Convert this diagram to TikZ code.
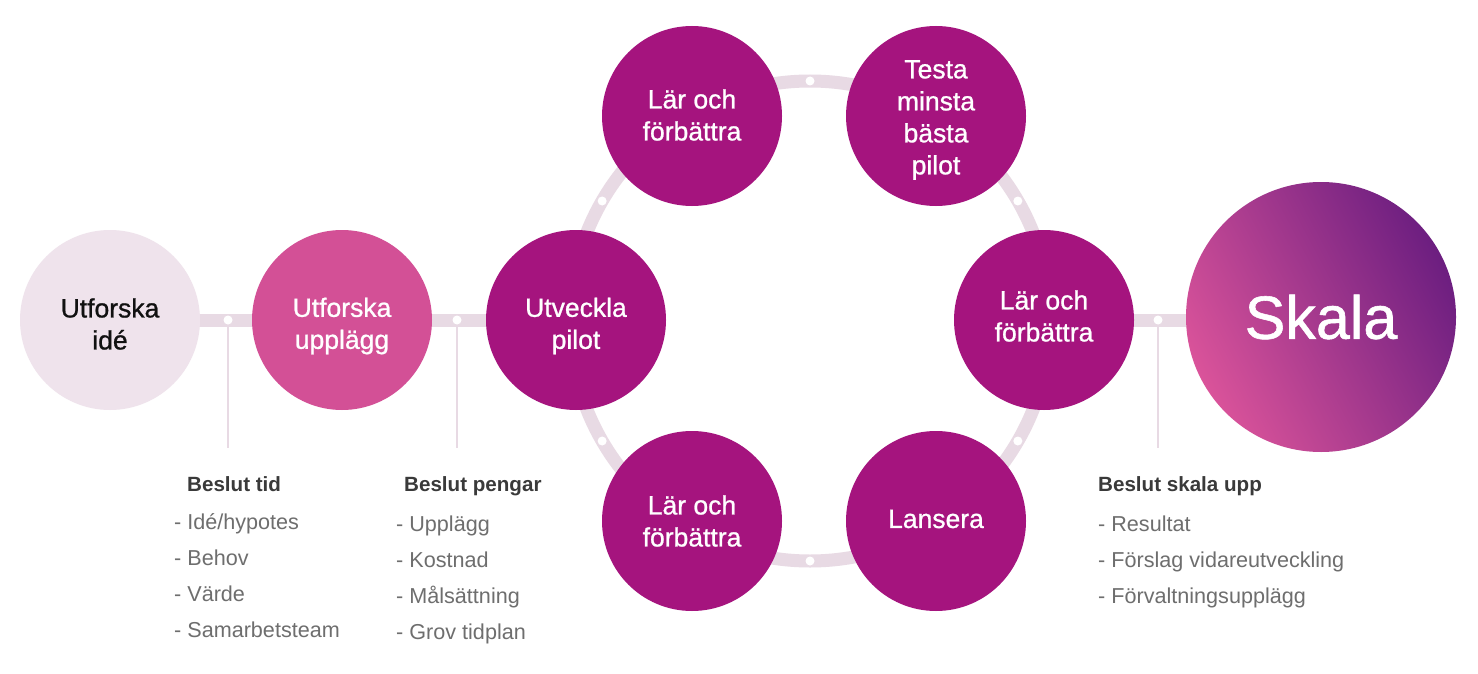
\documentclass[tikz,border=0pt]{standalone}
\usepackage{fontspec}
\setmainfont{Liberation Sans}
\newfontfamily\medfont{Liberation Sans}[FakeBold=0.9]
\usetikzlibrary{backgrounds}
\definecolor{ideC}{HTML}{EFE3EC}
\definecolor{uppC}{HTML}{D35096}
\definecolor{magC}{HTML}{A5147E}
\definecolor{lineC}{HTML}{E8DAE4}
\definecolor{skalaA}{HTML}{DA539A}
\definecolor{skalaB}{HTML}{6C1E80}
\definecolor{headC}{HTML}{3A3A3A}
\definecolor{itemC}{HTML}{6E6E6E}
\definecolor{darkT}{HTML}{111111}
\tikzset{
  stage/.style={circle, minimum size=180pt, inner sep=0pt, fill=magC},
  stagetext/.style={inner sep=0pt, align=center,
    font=\medfont\fontsize{26.5}{32}\selectfont, text=white},
  headtext/.style={anchor=base west, inner sep=0pt, text=headC,
    font=\bfseries\fontsize{20.6}{24}\selectfont},
  itemtext/.style={anchor=base west, inner sep=0pt, text=itemC,
    font=\fontsize{21.6}{24}\selectfont},
  track/.style={draw=lineC, line width=13pt},
  tick/.style={draw=lineC, line width=2pt},
  dot/.style={fill=white}
}
\begin{document}
\begin{tikzpicture}[x=1pt,y=-1pt]
\useasboundingbox (0,0) rectangle (1478,674);
% stages
\node[stage, fill=ideC] (ide) at (110,320) {};
\node[stage, fill=uppC] (upp) at (342,320) {};
\node[stage] (utv) at (576,320) {};
\node[stage] (lar1) at (692,116) {};
\node[stage] (testa) at (936,116) {};
\node[stage] (lar2) at (1044,320) {};
\node[stage] (lans) at (936,521) {};
\node[stage] (lar3) at (692,521) {};
\node[circle, minimum size=270pt, inner sep=0pt, left color=skalaA, right color=skalaB,
  shading angle=118, text=white, font=\medfont\fontsize{61}{70}\selectfont] (skala) at (1321,317) {Skala};
\node[stagetext, text=darkT, yshift=-4pt] (ideT) at (ide) {Utforska\\id\'e};
\node[stagetext, yshift=-6pt] (uppT) at (upp) {Utforska\\uppl\"agg};
\node[stagetext, yshift=-6pt] (utvT) at (utv) {Utveckla\\pilot};
\node[stagetext, yshift=1pt] (lar1T) at (lar1) {L\"ar och\\f\"orb\"attra};
\node[stagetext, yshift=-4pt] (testaT) at (testa) {Testa\\minsta\\b\"asta\\pilot};
\node[stagetext, yshift=4pt] (lar2T) at (lar2) {L\"ar och\\f\"orb\"attra};
\node[stagetext, yshift=2pt] (lansT) at (lans) {Lansera};
\node[stagetext] (lar3T) at (lar3) {L\"ar och\\f\"orb\"attra};
% tracks
\coordinate (ring) at (810,321);
\coordinate (d1) at (228,320);
\coordinate (d2) at (457,320);
\coordinate (d3) at (1158,320);
\coordinate (e1) at (228,448);
\coordinate (e2) at (457,448);
\coordinate (e3) at (1158,448);
\begin{scope}[on background layer]
  \fill[white] (0,0) rectangle (1478,674);
  \draw[track] (ide.center) -- (utv.center);
  \draw[track] (lar2.center) -- (skala.center |- lar2.center);
  \draw[track] (ring) circle[radius=240];
  \draw[tick] (d1) -- (e1);
  \draw[tick] (d2) -- (e2);
  \draw[tick] (d3) -- (e3);
  \foreach \p in {d1,d2,d3} \fill[dot] (\p) circle[radius=4.5];
  \foreach \a in {30,90,150,210,270,330} \fill[dot] ([shift={(810,321)}]\a:240) circle[radius=4.5];
\end{scope}
% decisions
\node[headtext] (h1) at (187,491) {Beslut tid};
\node[itemtext] (i11) at (174,529) {- Id\'e/hypotes};
\node[itemtext] (i12) at (174,565) {- Behov};
\node[itemtext] (i13) at (174,601) {- V\"arde};
\node[itemtext] (i14) at (174,637) {- Samarbetsteam};
\node[headtext] (h2) at (404,491) {Beslut pengar};
\node[itemtext] (i21) at (396,531) {- Uppl\"agg};
\node[itemtext] (i22) at (396,567) {- Kostnad};
\node[itemtext] (i23) at (396,603) {- M\aa ls\"attning};
\node[itemtext] (i24) at (396,639) {- Grov tidplan};
\node[headtext] (h3) at (1098,491) {Beslut skala upp};
\node[itemtext] (i31) at (1098,531) {- Resultat};
\node[itemtext] (i32) at (1098,567) {- F\"orslag vidareutveckling};
\node[itemtext] (i33) at (1098,603) {- F\"orvaltningsuppl\"agg};
\end{tikzpicture}
\end{document}
